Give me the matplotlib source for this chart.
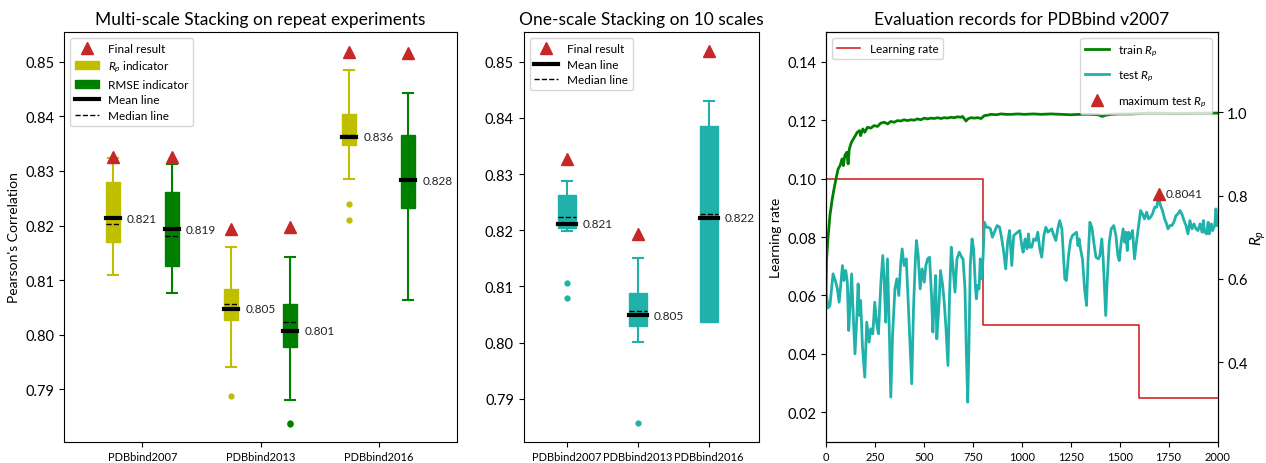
import matplotlib
matplotlib.use("Agg")
import matplotlib.pyplot as plt
from matplotlib.lines import Line2D
from matplotlib.patches import Patch

plt.rcParams["font.family"] = ["Lato", "DejaVu Sans"]
plt.rcParams["mathtext.fontset"] = "custom"
plt.rcParams["mathtext.rm"] = "Lato"
plt.rcParams["mathtext.it"] = "Lato:italic"

datasets = ["PDBbind2007", "PDBbind2013", "PDBbind2016"]

# multi-scale stacking, R_p indicator
rp_whislo = [0.8109, 0.7940, 0.8286]
rp_q1 = [0.8170, 0.8027, 0.8347]
rp_med = [0.8202, 0.8056, 0.8365]
rp_q3 = [0.8279, 0.8084, 0.8405]
rp_whishi = [0.8323, 0.8161, 0.8485]
rp_mean = [0.8213, 0.8048, 0.8363]
rp_fliers = [[], [0.7888], [0.8239, 0.8210]]
rp_final = [0.8326, 0.8193, 0.8518]

# multi-scale stacking, RMSE indicator
rmse_whislo = [0.8076, 0.7880, 0.8063]
rmse_q1 = [0.8126, 0.7978, 0.8232]
rmse_med = [0.8181, 0.8023, 0.8284]
rmse_q3 = [0.8262, 0.8057, 0.8366]
rmse_whishi = [0.8312, 0.8142, 0.8443]
rmse_mean = [0.8193, 0.8007, 0.8283]
rmse_fliers = [[], [0.7838, 0.7836], []]
rmse_final = [0.8326, 0.8197, 0.8516]

# one-scale stacking on 10 scales
one_whislo = [0.8198, 0.8002, 0.8036]
one_q1 = [0.8204, 0.8029, 0.8036]
one_med = [0.8224, 0.8056, 0.8229]
one_q3 = [0.8263, 0.8089, 0.8386]
one_whishi = [0.8287, 0.8151, 0.8429]
one_mean = [0.8212, 0.8049, 0.8222]
one_fliers = [[0.8107, 0.8080], [0.7857], []]
one_final = [0.8327, 0.8193, 0.8518]

# evaluation records for PDBbind v2007
lr_epoch = [0, 800, 1600, 2000]
lr_value = [0.1, 0.05, 0.025, 0.025]

train_epoch = [0, 3, 10, 20, 32, 41, 51, 62, 72, 82, 89, 96, 106, 113, 119, 130,
               140, 150, 160, 171, 177, 188, 198, 212, 229, 246, 263, 280, 297,
               315, 331, 348, 365, 382, 399, 416, 433, 450, 467, 485, 502, 519,
               536, 553, 570, 587, 604, 621, 638, 655, 672, 690, 698, 715, 725,
               740, 757, 775, 792, 809, 826, 843, 870, 894, 920, 945, 980, 1013,
               1060, 1100, 1150, 1200, 1249, 1300, 1350, 1390, 1411, 1430, 1460,
               1500, 1560, 1641, 1700, 1800, 1900, 2000]
train_rp = [0.57, 0.648, 0.696, 0.752, 0.792, 0.816, 0.84, 0.864, 0.872, 0.888,
            0.872, 0.896, 0.904, 0.876, 0.912, 0.928, 0.936, 0.944, 0.952, 0.956,
            0.944, 0.96, 0.952, 0.964, 0.962, 0.968, 0.966, 0.974, 0.976, 0.972,
            0.978, 0.976, 0.98, 0.979, 0.982, 0.98, 0.982, 0.981, 0.984, 0.982,
            0.986, 0.984, 0.986, 0.985, 0.987, 0.985, 0.987, 0.986, 0.988,
            0.987, 0.989, 0.988, 0.99, 0.979, 0.984, 0.987, 0.986, 0.987, 0.985,
            0.992, 0.993, 0.995, 0.994, 0.996, 0.995, 0.995, 0.996, 0.995,
            0.996, 0.995, 0.996, 0.995, 0.994, 0.995, 0.995, 0.994, 0.99,
            0.993, 0.995, 0.996, 0.996, 0.998, 0.998, 0.997, 0.998, 0.998]

test_epoch = [0, 3, 10, 20, 36, 50, 58, 67, 75, 84, 92, 101, 109, 116, 123, 131,
              140, 148, 157, 164, 171, 177, 186, 198, 208, 220, 229, 239, 249,
              259, 268, 280, 290, 297, 305, 314, 324, 331, 340, 352, 362, 372,
              382, 389, 399, 410, 420, 430, 438, 447, 456, 462, 471, 481, 491,
              502, 510, 519, 529, 539, 546, 553, 560, 566, 577, 585, 596, 604,
              613, 623, 631, 640, 648, 659, 669, 681, 693, 700, 710, 717, 724,
              730, 737, 746, 754, 763, 768, 775, 782, 788, 795, 802, 809, 819,
              829, 840, 850, 860, 874, 887, 898, 908, 918, 928, 938, 949, 959,
              969, 979, 990, 1000, 1007, 1017, 1027, 1034, 1041, 1051, 1061,
              1072, 1082, 1092, 1102, 1113, 1123, 1133, 1143, 1153, 1164, 1174,
              1184, 1194, 1205, 1211, 1220, 1228, 1239, 1249, 1259, 1269, 1280,
              1287, 1293, 1300, 1310, 1321, 1331, 1339, 1348, 1358, 1368, 1379,
              1392, 1399, 1409, 1416, 1423, 1429, 1436, 1447, 1457, 1470, 1481,
              1491, 1498, 1508, 1518, 1525, 1532, 1539, 1545, 1552, 1559, 1566,
              1576, 1586, 1597, 1607, 1617, 1627, 1638, 1648, 1658, 1668, 1679,
              1689, 1699, 1709, 1719, 1730, 1740, 1747, 1757, 1767, 1777, 1788,
              1798, 1808, 1818, 1829, 1839, 1849, 1859, 1870, 1880, 1890, 1900,
              1911, 1921, 1928, 1934, 1945, 1952, 1958, 1969, 1975, 1986, 1992,
              2000]
test_rp = [0.57, 0.56, 0.53, 0.536, 0.612, 0.592, 0.576, 0.544, 0.584, 0.632,
           0.596, 0.62, 0.592, 0.476, 0.536, 0.612, 0.504, 0.42, 0.504, 0.588,
           0.512, 0.548, 0.44, 0.364, 0.496, 0.448, 0.48, 0.468, 0.544, 0.492,
           0.468, 0.588, 0.656, 0.6, 0.496, 0.648, 0.464, 0.316, 0.464, 0.576,
           0.6, 0.56, 0.64, 0.672, 0.632, 0.648, 0.544, 0.432, 0.348, 0.528,
           0.64, 0.692, 0.656, 0.576, 0.624, 0.592, 0.632, 0.648, 0.652, 0.56,
           0.472, 0.544, 0.608, 0.456, 0.536, 0.62, 0.584, 0.544, 0.48, 0.392,
           0.56, 0.676, 0.632, 0.568, 0.648, 0.664, 0.652, 0.648, 0.576, 0.424,
           0.304, 0.432, 0.632, 0.696, 0.672, 0.584, 0.552, 0.584, 0.576, 0.648,
           0.6, 0.648, 0.736, 0.724, 0.724, 0.72, 0.7, 0.712, 0.728, 0.724,
           0.696, 0.664, 0.624, 0.688, 0.716, 0.632, 0.704, 0.708, 0.712, 0.716,
           0.68, 0.664, 0.696, 0.672, 0.708, 0.676, 0.676, 0.696, 0.692, 0.712,
           0.672, 0.652, 0.704, 0.724, 0.712, 0.716, 0.72, 0.704, 0.692, 0.72,
           0.74, 0.72, 0.672, 0.6, 0.596, 0.656, 0.692, 0.704, 0.708, 0.712,
           0.68, 0.696, 0.672, 0.648, 0.576, 0.536, 0.648, 0.736, 0.724, 0.688,
           0.652, 0.648, 0.656, 0.696, 0.648, 0.576, 0.512, 0.592, 0.688, 0.72,
           0.728, 0.704, 0.656, 0.644, 0.688, 0.72, 0.688, 0.712, 0.668, 0.712,
           0.696, 0.708, 0.716, 0.648, 0.688, 0.728, 0.764, 0.756, 0.744, 0.76,
           0.744, 0.748, 0.756, 0.772, 0.772, 0.795, 0.776, 0.764, 0.744, 0.732,
           0.72, 0.728, 0.728, 0.736, 0.752, 0.756, 0.764, 0.756, 0.74, 0.728,
           0.708, 0.74, 0.72, 0.732, 0.72, 0.716, 0.732, 0.712, 0.74, 0.712,
           0.708, 0.736, 0.708, 0.732, 0.716, 0.728, 0.768, 0.728]

max_epoch = 1700
max_rp = 0.8041

YELLOW = "#bfbf00"
GREEN = "#008000"
TEAL = "#20b2aa"
RED = "#c62828"


def make_stats(whislo, q1, med, q3, whishi, mean, fliers):
    return [dict(whislo=a, q1=b, med=c, q3=d, whishi=e, mean=f, fliers=g)
            for a, b, c, d, e, f, g in zip(whislo, q1, med, q3, whishi, mean, fliers)]


def draw_boxes(ax, stats, positions, width, capwidth, color):
    ax.bxp(stats, positions=positions, widths=width, capwidths=capwidth,
           patch_artist=True, showmeans=True, meanline=True, manage_ticks=False,
           boxprops=dict(facecolor=color, edgecolor=color, linewidth=1),
           whiskerprops=dict(color=color, linewidth=1.5),
           capprops=dict(color=color, linewidth=1.5),
           medianprops=dict(color="black", linewidth=1, linestyle="--"),
           meanprops=dict(color="black", linewidth=3, linestyle="-",
                          solid_capstyle="projecting"),
           flierprops=dict(marker="o", markerfacecolor=color,
                           markeredgecolor=color, markersize=3.5))


fig = plt.figure(figsize=(12.66, 4.64), dpi=100)
W, H = 1266, 464
bot, top = 442.7, 33.3


def axes_at(x0, x1):
    return fig.add_axes([x0 / W, 1 - bot / H, (x1 - x0) / W, (bot - top) / H])


# ---- left panel ----
ax1 = axes_at(64.3, 456.7)
pos = [1, 2, 3]
off = 0.25
rp_pos = [p - off for p in pos]
rmse_pos = [p + off for p in pos]
draw_boxes(ax1, make_stats(rp_whislo, rp_q1, rp_med, rp_q3, rp_whishi, rp_mean, rp_fliers),
           rp_pos, 0.12, 0.085, YELLOW)
draw_boxes(ax1, make_stats(rmse_whislo, rmse_q1, rmse_med, rmse_q3, rmse_whishi, rmse_mean, rmse_fliers),
           rmse_pos, 0.12, 0.085, GREEN)
ax1.plot(rp_pos, rp_final, "^", color=RED, markersize=8, linestyle="none", zorder=5)
ax1.plot(rmse_pos, rmse_final, "^", color=RED, markersize=8, linestyle="none", zorder=5)
for x, m in zip(rp_pos + rmse_pos, rp_mean + rmse_mean):
    ax1.text(x + 0.12, m, f"{m:.3f}", va="center", ha="left", fontsize=8.5, color="#222222")
ax1.set_xlim(0.34, 3.66)
ax1.set_ylim(0.7804, 0.8554)
ax1.set_xticks(pos)
ax1.set_xticklabels(datasets, fontsize=8)
ax1.set_yticks([0.79, 0.80, 0.81, 0.82, 0.83, 0.84, 0.85])
ax1.tick_params(axis="y", labelsize=10.5)
ax1.set_ylabel("Pearson's Correlation", fontsize=10)
ax1.set_title("Multi-scale Stacking on repeat experiments", fontsize=12.5)
handles1 = [
    Line2D([], [], marker="^", color=RED, linestyle="none", markersize=8),
    Patch(facecolor=YELLOW, edgecolor=YELLOW),
    Patch(facecolor=GREEN, edgecolor=GREEN),
    Line2D([], [], color="black", linewidth=3),
    Line2D([], [], color="black", linewidth=1, linestyle="--"),
]
labels1 = ["Final result", "$R_p$ indicator", "RMSE indicator", "Mean line", "Median line"]
ax1.legend(handles1, labels1, loc="upper left", fontsize=8.5, labelspacing=0.4)

# ---- middle panel ----
ax2 = axes_at(523.7, 759.3)
draw_boxes(ax2, make_stats(one_whislo, one_q1, one_med, one_q3, one_whishi, one_mean, one_fliers),
           pos, 0.25, 0.14, TEAL)
ax2.plot(pos, one_final, "^", color=RED, markersize=8, linestyle="none", zorder=5)
for x, m in zip(pos, one_mean):
    ax2.text(x + 0.22, m, f"{m:.3f}", va="center", ha="left", fontsize=8.5, color="#222222")
ax2.set_xlim(0.394, 3.71)
ax2.set_ylim(0.7824, 0.8552)
ax2.set_xticks(pos)
ax2.set_xticklabels(datasets, fontsize=8)
ax2.set_yticks([0.79, 0.80, 0.81, 0.82, 0.83, 0.84, 0.85])
ax2.tick_params(axis="y", labelsize=10.5)
ax2.set_title("One-scale Stacking on 10 scales", fontsize=12.5)
handles2 = [
    Line2D([], [], marker="^", color=RED, linestyle="none", markersize=8),
    Line2D([], [], color="black", linewidth=3),
    Line2D([], [], color="black", linewidth=1, linestyle="--"),
]
ax2.legend(handles2, ["Final result", "Mean line", "Median line"], loc="upper left",
           fontsize=8.5, labelspacing=0.4)

# ---- right panel ----
ax3 = axes_at(826, 1217.5)
ax3.plot(lr_epoch, lr_value, drawstyle="steps-post", color="#d62728", linewidth=1.2,
         label="Learning rate")
ax3.set_xlim(0, 2000)
ax3.set_ylim(0.01, 0.15)
ax3.set_xticks([0, 250, 500, 750, 1000, 1250, 1500, 1750, 2000])
ax3.tick_params(axis="x", labelsize=8)
ax3.tick_params(axis="y", labelsize=10.5)
ax3.set_ylabel("Learning rate", fontsize=10)
ax3.set_title("Evaluation records for PDBbind v2007", fontsize=12.5)
ax3.legend(loc="upper left", fontsize=8.5)

ax3r = ax3.twinx()
ax3r.plot(train_epoch, train_rp, color=GREEN, linewidth=2, label="train $R_p$")
ax3r.plot(test_epoch, test_rp, color=TEAL, linewidth=2, label="test $R_p$")
ax3r.plot([max_epoch], [max_rp], "^", color=RED, markersize=8, linestyle="none",
          label="maximum test $R_p$")
ax3r.text(max_epoch + 35, max_rp, f"{max_rp:.4f}", va="center", ha="left", fontsize=8.5,
          color="#222222")
ax3r.set_ylim(0.209, 1.192)
ax3r.set_yticks([0.4, 0.6, 0.8, 1.0])
ax3r.tick_params(axis="y", labelsize=10.5)
ax3r.set_ylabel("$R_p$", fontsize=11, labelpad=1)
ax3r.legend(loc="upper right", fontsize=8.5, labelspacing=0.9)

fig.savefig("out.png", dpi=100)
